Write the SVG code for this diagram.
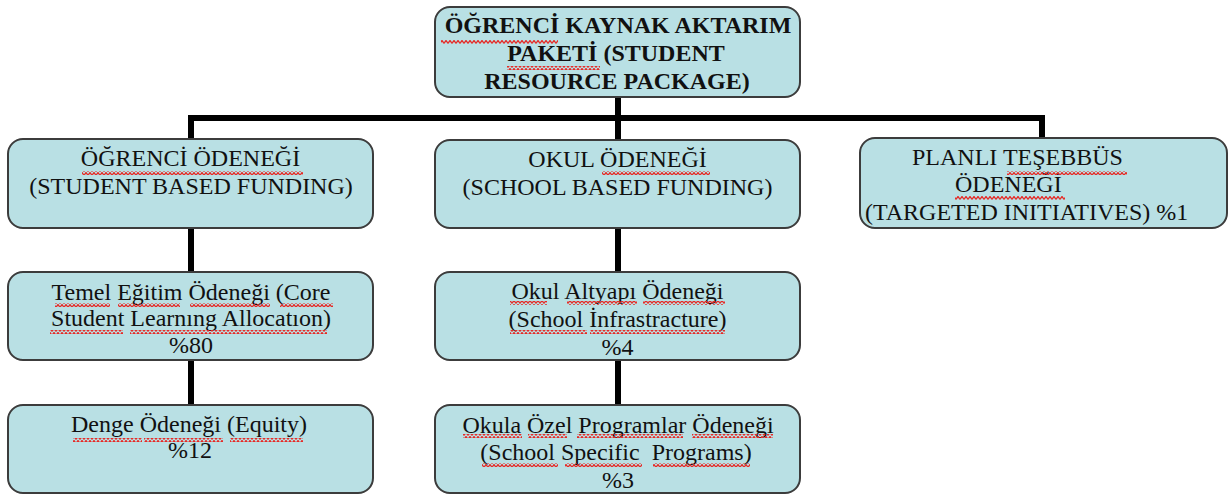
<svg xmlns="http://www.w3.org/2000/svg" width="1232" height="496" viewBox="0 0 1232 496">
  <style>
    .box { fill: #b9e0e4; stroke: #3c3c3c; stroke-width: 2; }
    .wire { fill: none; stroke: #000; stroke-width: 6; stroke-linecap: square; }
    text { font-family: "Liberation Serif", "Times New Roman", serif; font-size: 24px; fill: #111; white-space: pre; }
    .mid { text-anchor: middle; }
    .bold { font-weight: bold; }
    .sq { fill: url(#squiggle); }
  </style>
  <defs>
    <!-- red wavy spelling underline -->
    <pattern id="squiggle" patternUnits="userSpaceOnUse" width="4" height="4">
      <path d="M0,3.5 L2,0.5 L4,3.5" fill="none" stroke="#e62a26" stroke-width="1.3"/>
    </pattern>
  </defs>

  <rect width="1232" height="496" fill="#fff"/>

  <!-- connectors -->
  <g id="connectors">
    <path class="wire" d="M618,97 V140"/>
    <path class="wire" d="M191,118 H1042"/>
    <path class="wire" d="M191,118 V139"/>
    <path class="wire" d="M1042,118 V138"/>
    <path class="wire" d="M191,228 V272"/>
    <path class="wire" d="M191,360 V405"/>
    <path class="wire" d="M618,228 V272"/>
    <path class="wire" d="M618,360 V405"/>
  </g>

  <!-- root -->
  <g id="node-root">
    <rect class="box" x="435" y="7" width="365" height="90" rx="15"/>
    <text class="mid bold" x="618" y="33">ÖĞRENCİ KAYNAK AKTARIM</text>
    <text class="mid bold" x="616" y="61">PAKETİ (STUDENT</text>
    <text class="mid bold" x="617" y="89">RESOURCE PACKAGE)</text>
    <rect class="sq" x="441" y="40" width="117" height="4"/>
    <rect class="sq" x="507" y="66" width="93" height="4"/>
  </g>

  <!-- level 1 -->
  <g id="node-student-funding">
    <rect class="box" x="8" y="139" width="365" height="89" rx="15"/>
    <text class="mid" x="190.5" y="166">ÖĞRENCİ ÖDENEĞİ</text>
    <text class="mid" x="191" y="194">(STUDENT BASED FUNDING)</text>
    <rect class="sq" x="82" y="171" width="221" height="4"/>
  </g>

  <g id="node-school-funding">
    <rect class="box" x="435" y="140" width="365" height="88" rx="15"/>
    <text class="mid" x="617.5" y="167">OKUL ÖDENEĞİ</text>
    <text class="mid" x="617.5" y="195">(SCHOOL BASED FUNDING)</text>
    <rect class="sq" x="602" y="171" width="108" height="4"/>
  </g>

  <g id="node-targeted">
    <rect class="box" x="860" y="138" width="367" height="90" rx="15"/>
    <text x="912" y="165">PLANLI TEŞEBBÜS</text>
    <text x="955" y="192">ÖDENEĞİ</text>
    <text x="865" y="220">(TARGETED INITIATIVES) %1</text>
    <rect class="sq" x="1007" y="171" width="120" height="4"/>
    <rect class="sq" x="955" y="196" width="110" height="4"/>
  </g>

  <!-- level 2 -->
  <g id="node-core">
    <rect class="box" x="8" y="272" width="365" height="88" rx="15"/>
    <text class="mid" x="191" y="300">Temel Eğitim Ödeneği (Core</text>
    <text class="mid" x="191" y="326">Student Learnıng Allocatıon)</text>
    <text class="mid" x="191" y="353">%80</text>
    <rect class="sq" x="55" y="303" width="55" height="4"/>
    <rect class="sq" x="118" y="303" width="62" height="4"/>
    <rect class="sq" x="190" y="303" width="80" height="4"/>
    <rect class="sq" x="280" y="303" width="53" height="4"/>
    <rect class="sq" x="50" y="330" width="73" height="4"/>
    <rect class="sq" x="130" y="330" width="197" height="4"/>
  </g>

  <g id="node-infrastructure">
    <rect class="box" x="435" y="272" width="365" height="88" rx="15"/>
    <text class="mid" x="617.5" y="299">Okul Altyapı Ödeneği</text>
    <text class="mid" x="617.5" y="327">(School İnfrastracture)</text>
    <text class="mid" x="617.5" y="355">%4</text>
    <rect class="sq" x="510" y="301" width="37" height="4"/>
    <rect class="sq" x="567" y="301" width="70" height="4"/>
    <rect class="sq" x="643" y="301" width="82" height="4"/>
    <rect class="sq" x="510" y="330" width="77" height="4"/>
    <rect class="sq" x="590" y="330" width="135" height="4"/>
  </g>

  <!-- level 3 -->
  <g id="node-equity">
    <rect class="box" x="8" y="405" width="365" height="88" rx="15"/>
    <text class="mid" x="189" y="432">Denge Ödeneği (Equity)</text>
    <text class="mid" x="190" y="458">%12</text>
    <rect class="sq" x="73" y="438" width="69" height="4"/>
    <rect class="sq" x="144" y="438" width="79" height="4"/>
    <rect class="sq" x="230" y="438" width="73" height="4"/>
  </g>

  <g id="node-specific">
    <rect class="box" x="435" y="405" width="365" height="88" rx="15"/>
    <text class="mid" x="618" y="433">Okula Özel Programlar Ödeneği</text>
    <text class="mid" x="616" y="460">(School Specific  Programs)</text>
    <text class="mid" x="618" y="488">%3</text>
    <rect class="sq" x="463" y="434" width="59" height="4"/>
    <rect class="sq" x="528" y="434" width="39" height="4"/>
    <rect class="sq" x="577" y="434" width="106" height="4"/>
    <rect class="sq" x="692" y="434" width="81" height="4"/>
    <rect class="sq" x="482" y="463" width="76" height="4"/>
    <rect class="sq" x="565" y="463" width="77" height="4"/>
    <rect class="sq" x="653" y="463" width="97" height="4"/>
  </g>
</svg>
